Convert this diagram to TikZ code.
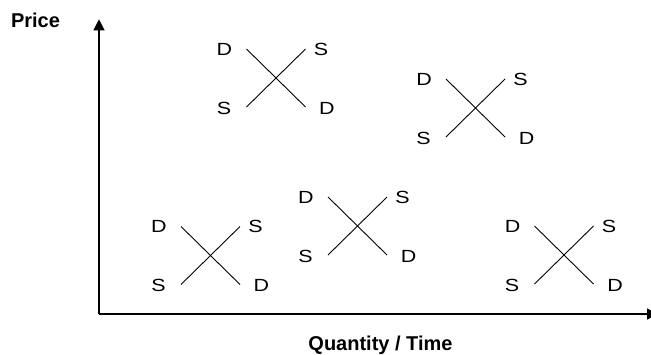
\documentclass[tikz,border=0pt]{standalone}
\usepackage{graphicx}
\usepackage{fontspec}
\setmainfont{Liberation Sans}
\usetikzlibrary{arrows.meta}

% curve letters are set slightly wide
\newcommand{\wideletter}[1]{\scalebox{1.22}[1]{#1}}

\tikzset{
  axisline/.style={line width=1.2pt, draw=black, -{Triangle[length=11pt,width=11pt]}},
  curveline/.style={line width=0.9pt, draw=black},
  letter/.style={font=\fontsize{17.6}{20}\selectfont, inner sep=0pt},
  axistitle/.style={font=\fontsize{20}{22}\selectfont\bfseries, inner sep=0pt, anchor=base},
  % one supply/demand cross with its four letters
  sdcross/.pic={
    \coordinate (-dtop) at (-29.5,-29);
    \coordinate (-dbot) at (29.5,29);
    \coordinate (-sbot) at (-29.5,29);
    \coordinate (-stop) at (29.5,-29);
    \draw[curveline] (-dtop) -- (-dbot);
    \draw[curveline] (-sbot) -- (-stop);
    \node[letter] (-dl) at (-51.5,-29) {\wideletter{D}};
    \node[letter] (-sr) at (45,-29) {\wideletter{S}};
    \node[letter] (-sl) at (-52,30) {\wideletter{S}};
    \node[letter] (-dr) at (51,30) {\wideletter{D}};
  }
}

\begin{document}
\begin{tikzpicture}[x=1pt, y=-1pt]
  \useasboundingbox (0,0) rectangle (651,354);

  % axes
  \coordinate (origin) at (99,314);
  \coordinate (ytip) at (99,19.3);
  \coordinate (xtip) at (658,314);
  \draw[axisline] (origin) -- (ytip);
  \draw[axisline] (origin) -- (xtip);

  \node[axistitle] (price) at (35.5,27.3) {Price};
  \node[axistitle] (qty) at (380.5,350.8) {Quantity / Time};

  % the five crosses
  \pic (c1) at (276,78) {sdcross};
  \pic (c2) at (475.5,108) {sdcross};
  \pic (c3) at (357.5,226) {sdcross};
  \pic (c4) at (564,255) {sdcross};
  \pic (c5) at (210.5,255.5) {sdcross};
\end{tikzpicture}
\end{document}
